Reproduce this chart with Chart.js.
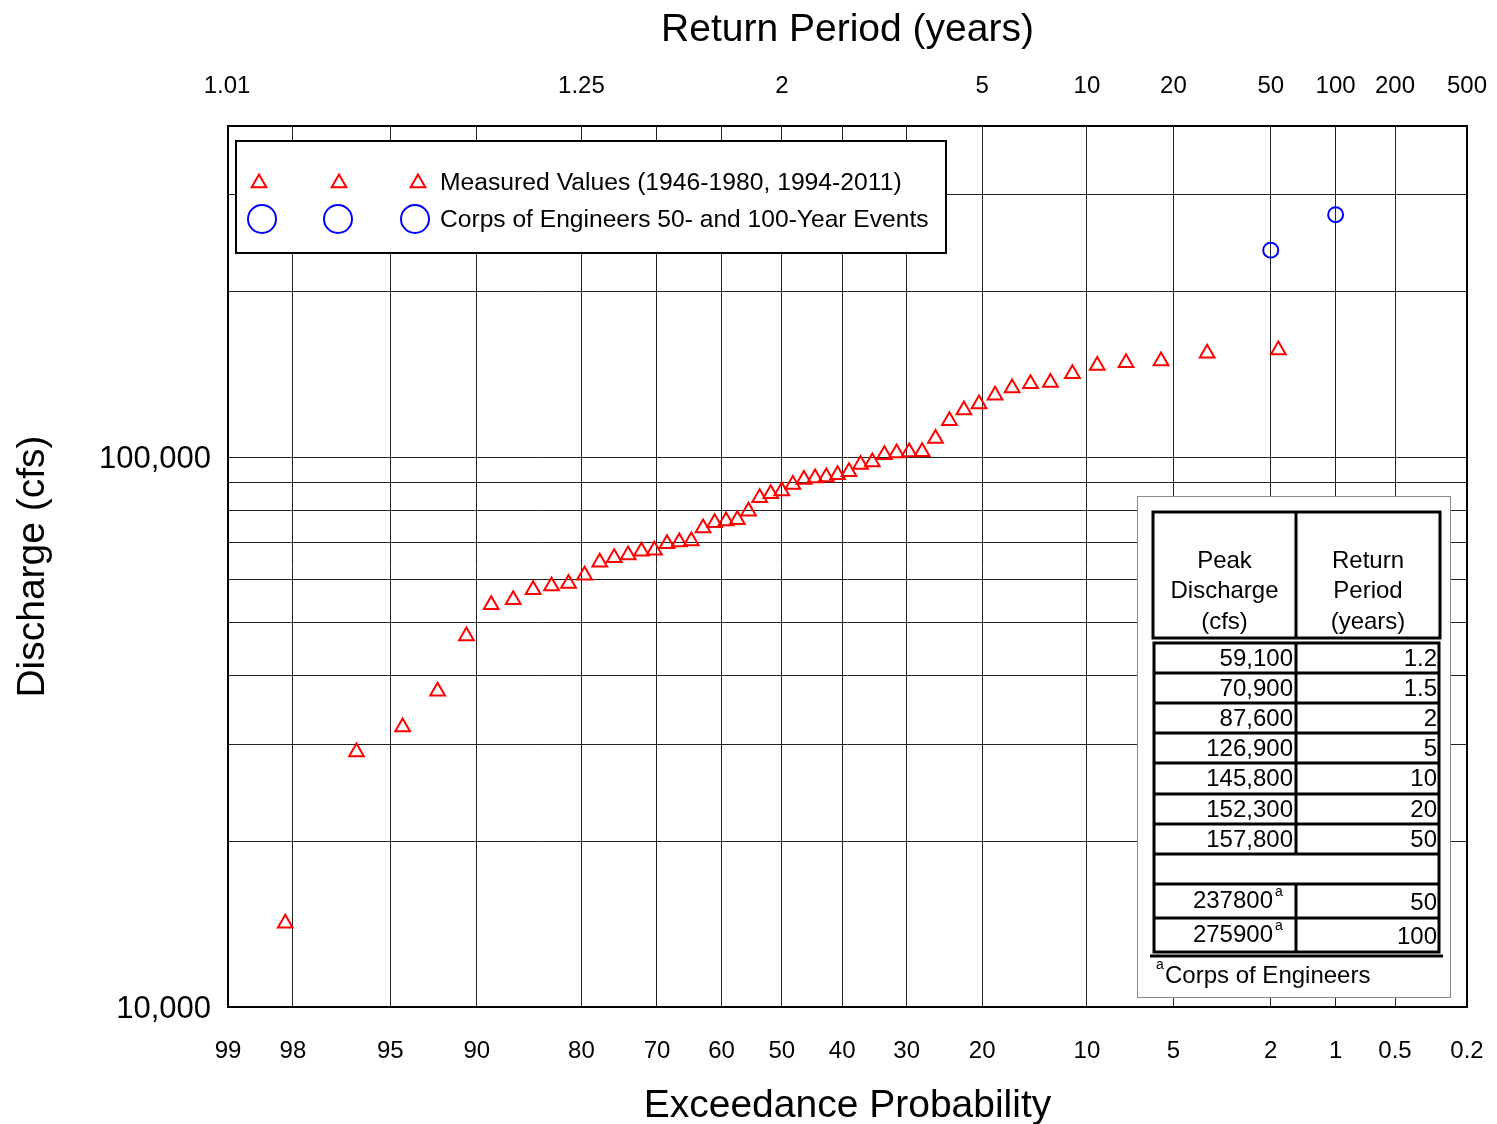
<!DOCTYPE html>
<html>
<head>
<meta charset="utf-8">
<script src="https://cdn.jsdelivr.net/npm/chart.js@4.4.0/dist/chart.umd.min.js"></script>
<style>
body { margin: 0; background: #fff; }
canvas { display: block; }
</style>
</head>
<body>
<canvas id="chart" width="1497" height="1124"></canvas>
<script>
// plotted exceedance probability (%) of each measured annual peak
var measured_prob = [98.15, 96.30, 94.44, 92.59, 90.74, 88.89, 87.04, 85.19, 83.33, 81.48,
    79.63, 77.78, 75.93, 74.07, 72.22, 70.37, 68.52, 66.67, 64.81, 62.96,
    61.11, 59.26, 57.41, 55.56, 53.70, 51.85, 50.00, 48.15, 46.30, 44.44,
    42.59, 40.74, 38.89, 37.04, 35.19, 33.33, 31.48, 29.63, 27.78, 25.93,
    24.07, 22.22, 20.37, 18.52, 16.67, 14.81, 12.96, 11.11, 9.26, 7.41,
    5.56, 3.70, 1.85];
// peak discharge (cfs)
var measured_flow = [14200, 29100, 32300, 37500, 47300, 53900, 55000, 57400, 58300, 58900,
    61000, 64400, 65600, 66400, 67400, 67700, 69600, 70100, 70400, 74300,
    76000, 76500, 76900, 79700, 84300, 85800, 86800, 89200, 91000, 91600,
    92000, 92900, 94000, 96900, 98000, 101000, 101700, 102200, 102300, 108100,
    116400, 121800, 124900, 129500, 133600, 136000, 136600, 141800, 146800, 148500,
    149600, 154400, 156600];

var corps_prob = [2, 1];
var corps_flow = [237800, 275900];

var bottom_ticks = [99, 98, 95, 90, 80, 70, 60, 50, 40, 30, 20, 10, 5, 2, 1, 0.5, 0.2];
var bottom_labels = ['99', '98', '95', '90', '80', '70', '60', '50', '40', '30', '20', '10', '5', '2', '1', '0.5', '0.2'];
var top_ticks = [1.01, 1.25, 2, 5, 10, 20, 50, 100, 200, 500];
var top_labels = ['1.01', '1.25', '2', '5', '10', '20', '50', '100', '200', '500'];
var y_grid = [10000, 20000, 30000, 40000, 50000, 60000, 70000, 80000, 90000, 100000, 200000, 300000, 400000];
var y_labels = { 10000: '10,000', 100000: '100,000' };

var legend_text = ['Measured Values (1946-1980, 1994-2011)', 'Corps of Engineers 50- and 100-Year Events'];
var table_header = [['Peak', 'Discharge', '(cfs)'], ['Return', 'Period', '(years)']];
var table_flow = ['59,100', '70,900', '87,600', '126,900', '145,800', '152,300', '157,800'];
var table_period = ['1.2', '1.5', '2', '5', '10', '20', '50'];
var table_corps_flow = ['237800', '275900'];
var table_corps_period = ['50', '100'];
var table_note = 'Corps of Engineers';

var FONT = '"Liberation Sans", Arial, sans-serif';

// inverse standard normal (Acklam)
function probit(p) {
    var a = [-3.969683028665376e+01, 2.209460984245205e+02, -2.759285104469687e+02, 1.383577518672690e+02, -3.066479806614716e+01, 2.506628277459239e+00];
    var b = [-5.447609879822406e+01, 1.615858368580409e+02, -1.556989798598866e+02, 6.680131188771972e+01, -1.328068155288572e+01];
    var c = [-7.784894002430293e-03, -3.223964580411365e-01, -2.400758277161838e+00, -2.549732539343734e+00, 4.374664141464968e+00, 2.938163982698783e+00];
    var d = [7.784695709041462e-03, 3.224671290700398e-01, 2.445134137142996e+00, 3.754408661907416e+00];
    var pl = 0.02425, q, r;
    if (p < pl) {
        q = Math.sqrt(-2 * Math.log(p));
        return (((((c[0] * q + c[1]) * q + c[2]) * q + c[3]) * q + c[4]) * q + c[5]) / ((((d[0] * q + d[1]) * q + d[2]) * q + d[3]) * q + 1);
    }
    if (p <= 1 - pl) {
        q = p - 0.5; r = q * q;
        return (((((a[0] * r + a[1]) * r + a[2]) * r + a[3]) * r + a[4]) * r + a[5]) * q / (((((b[0] * r + b[1]) * r + b[2]) * r + b[3]) * r + b[4]) * r + 1);
    }
    q = Math.sqrt(-2 * Math.log(1 - p));
    return -(((((c[0] * q + c[1]) * q + c[2]) * q + c[3]) * q + c[4]) * q + c[5]) / ((((d[0] * q + d[1]) * q + d[2]) * q + d[3]) * q + 1);
}
// exceedance % -> position on probability paper
function probX(pct) {
    return probit(1 - pct / 100);
}

var measured_pts = measured_prob.map((p, i) => ({ x: probX(p), y: measured_flow[i] }));
var corps_pts = corps_prob.map((p, i) => ({ x: probX(p), y: corps_flow[i] }));

function triangle(ctx, x, y, r) {
    ctx.beginPath();
    ctx.moveTo(x, y - r);
    ctx.lineTo(x + r * Math.sqrt(3) / 2, y + r / 2);
    ctx.lineTo(x - r * Math.sqrt(3) / 2, y + r / 2);
    ctx.closePath();
    ctx.stroke();
}

// legend box + summary table + frame
var extras = {
    id: 'extras',
    afterDraw(chart) {
        const ctx = chart.ctx;
        const a = chart.chartArea;
        ctx.save();

        // plot frame
        ctx.strokeStyle = '#000';
        ctx.lineWidth = 2;
        ctx.strokeRect(a.left, a.top, a.right - a.left, a.bottom - a.top);

        // legend
        const lx = a.left + 8, ly = a.top + 15;
        ctx.fillStyle = '#fff';
        ctx.fillRect(lx, ly, 710, 112);
        ctx.strokeRect(lx, ly, 710, 112);
        ctx.lineWidth = 2;
        ctx.strokeStyle = 'red';
        [23, 103, 182].forEach(dx => triangle(ctx, lx + dx, ly + 42, 8.5));
        ctx.strokeStyle = 'blue';
        [26, 102, 179].forEach(dx => {
            ctx.beginPath();
            ctx.arc(lx + dx, ly + 78, 14, 0, Math.PI * 2);
            ctx.stroke();
        });
        ctx.fillStyle = '#000';
        ctx.textAlign = 'left';
        ctx.textBaseline = 'middle';
        ctx.font = '24.7px ' + FONT;
        ctx.fillText(legend_text[0], lx + 204, ly + 42);
        ctx.font = '24.6px ' + FONT;
        ctx.fillText(legend_text[1], lx + 204, ly + 79);

        // table
        const tx = a.right - 330, ty = a.bottom - 511;
        ctx.fillStyle = '#fff';
        ctx.fillRect(tx, ty, 313, 501);
        ctx.strokeStyle = '#888';
        ctx.lineWidth = 1;
        ctx.strokeRect(tx + 0.5, ty + 0.5, 313, 501);

        const c0 = tx + 16, c1 = tx + 159, c2 = tx + 303;
        ctx.strokeStyle = '#000';
        ctx.lineWidth = 3;
        ctx.strokeRect(c0, ty + 16, c2 - c0, 126);
        ctx.beginPath();
        ctx.moveTo(c1, ty + 16); ctx.lineTo(c1, ty + 142);
        ctx.stroke();

        const rows = [147, 177, 207, 237, 267, 298, 328, 358, 388, 422, 456];
        ctx.strokeRect(c0 + 1, ty + rows[0], c2 - c0 - 2, rows[rows.length - 1] - rows[0]);
        ctx.beginPath();
        for (let i = 1; i < rows.length - 1; i++) {
            ctx.moveTo(c0 + 1, ty + rows[i]); ctx.lineTo(c2 - 1, ty + rows[i]);
        }
        ctx.moveTo(c1, ty + rows[0]); ctx.lineTo(c1, ty + rows[7]);
        ctx.moveTo(c1, ty + rows[8]); ctx.lineTo(c1, ty + rows[10]);
        ctx.moveTo(c0 - 3, ty + 460); ctx.lineTo(c2 + 3, ty + 460);
        ctx.stroke();

        ctx.fillStyle = '#000';
        ctx.font = '24px ' + FONT;
        ctx.textAlign = 'center';
        table_header[0].forEach((t, i) => ctx.fillText(t, (c0 + c1) / 2, ty + 65 + i * 30.5));
        table_header[1].forEach((t, i) => ctx.fillText(t, (c1 + c2) / 2, ty + 65 + i * 30.5));

        ctx.textAlign = 'right';
        table_flow.forEach((t, i) => {
            const yc = ty + (rows[i] + rows[i + 1]) / 2 + 1;
            ctx.fillText(t, c1 - 3, yc);
            ctx.fillText(table_period[i], c2 - 3, yc);
        });
        table_corps_flow.forEach((t, i) => {
            const yc = ty + (rows[8 + i] + rows[9 + i]) / 2;
            ctx.font = '24px ' + FONT;
            ctx.textAlign = 'right';
            ctx.fillText(t, c1 - 23, yc);
            ctx.fillText(table_corps_period[i], c2 - 3, yc + 2);
            ctx.font = '14px ' + FONT;
            ctx.textAlign = 'left';
            ctx.fillText('a', c1 - 21, yc - 9);
        });

        ctx.textAlign = 'left';
        ctx.font = '14px ' + FONT;
        ctx.fillText('a', tx + 19, ty + 469);
        ctx.font = '24px ' + FONT;
        ctx.fillText(table_note, tx + 28, ty + 480);

        ctx.restore();
    }
};

var tickFont = { family: FONT, size: 24 };
var titleFont = { family: FONT, size: 39, lineHeight: 1 };

new Chart(document.getElementById('chart').getContext('2d'), {
    type: 'scatter',
    data: {
        datasets: [{
            label: legend_text[0],
            data: measured_pts,
            pointStyle: 'triangle',
            pointRadius: 8.5,
            pointBorderWidth: 2,
            pointBorderColor: 'red',
            pointBackgroundColor: 'rgba(0,0,0,0)',
        }, {
            label: legend_text[1],
            data: corps_pts,
            pointStyle: 'circle',
            pointRadius: 7.5,
            pointBorderWidth: 2,
            pointBorderColor: 'blue',
            pointBackgroundColor: 'rgba(0,0,0,0)',
        }]
    },
    options: {
        responsive: false,
        animation: false,
        layout: { padding: { right: 30 } },
        plugins: {
            legend: { display: false },
            tooltip: { enabled: false },
        },
        scales: {
            x: {
                type: 'linear',
                position: 'bottom',
                min: probX(99),
                max: probX(0.2),
                afterBuildTicks: s => { s.ticks = bottom_ticks.map(p => ({ value: probX(p) })); },
                afterFit: s => { s.height = 117; s.paddingLeft = 0; s.paddingRight = 0; },
                ticks: {
                    autoSkip: false, maxRotation: 0, minRotation: 0,
                    color: '#000', font: tickFont, padding: 30,
                    callback: (v, i) => bottom_labels[i],
                },
                grid: { color: '#222', lineWidth: 1, drawTicks: false },
                border: { display: false },
                title: { display: true, text: 'Exceedance Probability', color: '#000', font: titleFont, padding: { top: 0, bottom: -1.5 } },
            },
            x2: {
                type: 'linear',
                axis: 'x',
                position: 'top',
                min: probX(99),
                max: probX(0.2),
                afterBuildTicks: s => { s.ticks = top_ticks.map(t => ({ value: probX(100 / t) })); },
                afterFit: s => { s.height = 126; s.paddingLeft = 0; s.paddingRight = 0; },
                ticks: {
                    autoSkip: false, maxRotation: 0, minRotation: 0,
                    color: '#000', font: tickFont, padding: 25,
                    callback: (v, i) => top_labels[i],
                },
                grid: { display: false, drawTicks: false },
                border: { display: false },
                title: { display: true, text: 'Return Period (years)', color: '#000', font: titleFont, padding: { top: 10.5, bottom: 0 } },
            },
            y: {
                type: 'logarithmic',
                min: 10000,
                max: 400000,
                afterBuildTicks: s => { s.ticks = y_grid.map(v => ({ value: v })); },
                afterFit: s => { s.width = 228; },
                ticks: {
                    autoSkip: false,
                    color: '#000', font: { family: FONT, size: 31 }, padding: 17, labelOffset: 2.5,
                    callback: v => y_labels[v] || '',
                },
                grid: { color: '#222', lineWidth: 1, drawTicks: false },
                border: { display: false },
                title: { display: true, text: 'Discharge (cfs)', color: '#000', font: titleFont, padding: { top: 13.5, bottom: 0 } },
            },
        },
    },
    plugins: [extras],
});
</script>
</body>
</html>
